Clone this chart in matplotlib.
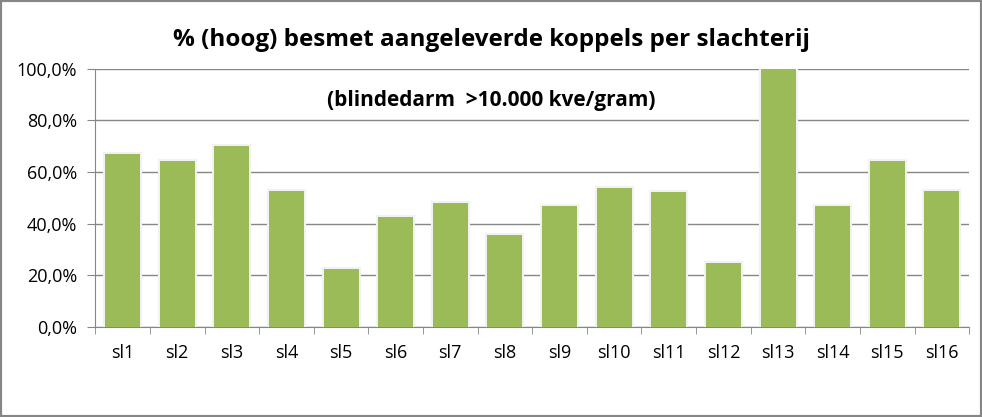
import matplotlib.pyplot as plt
import matplotlib.patches as mpatches
import matplotlib.patheffects as pe
from matplotlib.ticker import FuncFormatter, FixedLocator
import numpy as np

plt.rcParams['font.family'] = ['Open Sans', 'DejaVu Sans']

slachterijen = ["sl1", "sl2", "sl3", "sl4", "sl5", "sl6", "sl7", "sl8",
                "sl9", "sl10", "sl11", "sl12", "sl13", "sl14", "sl15", "sl16"]
besmet_pct = [67.0, 64.4, 70.2, 52.7, 22.4, 42.6, 48.1, 35.6,
              46.9, 53.9, 52.3, 24.7, 100.0, 46.9, 64.4, 52.7]

fig = plt.figure(figsize=(9.82, 4.17), dpi=100)
ax = fig.add_axes([0.097, 0.216, 0.890, 0.619])

x = np.arange(len(slachterijen))
ax.bar(x, besmet_pct, width=0.64, color='#9BBB59', zorder=3,
       path_effects=[pe.withStroke(linewidth=3, foreground='#f2f2f2')])

ax.set_xlim(-0.5, len(slachterijen) - 0.5)
ax.set_ylim(0, 100)
ax.set_yticks(np.arange(0, 101, 20))
ax.yaxis.set_major_formatter(FuncFormatter(lambda v, p: f"{v:.1f}%".replace('.', ',')))
ax.grid(axis='y', color='#868686', linewidth=1, zorder=0)

ax.set_xticks(x)
ax.set_xticklabels(slachterijen)
ax.xaxis.set_minor_locator(FixedLocator(np.arange(-0.5, len(slachterijen), 1)))
ax.tick_params(axis='x', which='major', length=0, pad=12, labelsize=13)
ax.tick_params(axis='x', which='minor', length=5, color='#868686', direction='out')
ax.tick_params(axis='y', length=6, color='#868686', labelsize=13, pad=7)

for side in ['top', 'right']:
    ax.spines[side].set_visible(False)
for side in ['left', 'bottom']:
    ax.spines[side].set_color('#868686')

fig.text(0.5, 0.905, "% (hoog) besmet aangeleverde koppels per slachterij",
         ha='center', va='center', fontsize=17.5, fontweight='bold')
fig.text(0.5, 0.76, "(blindedarm  >10.000 kve/gram)",
         ha='center', va='center', fontsize=15, fontweight='bold')

fig.patches.append(mpatches.Rectangle((0, 0), 1, 1, transform=fig.transFigure,
                                      fill=False, edgecolor='#868686', linewidth=3))

fig.savefig("out.png", dpi=100)
